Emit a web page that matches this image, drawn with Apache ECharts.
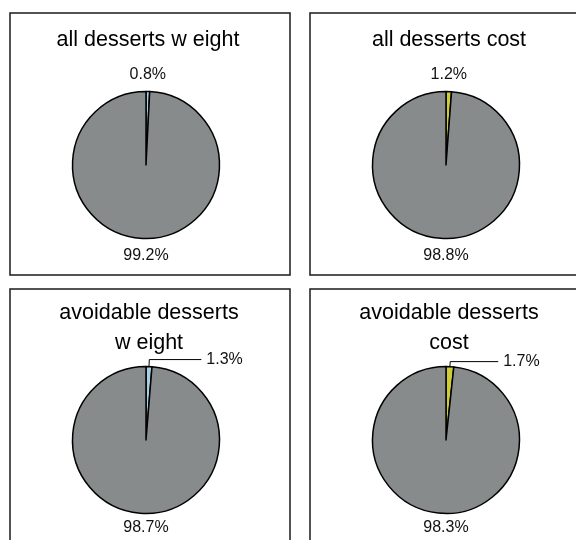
<!DOCTYPE html>
<html>
<head>
<meta charset="utf-8">
<script src="https://cdn.jsdelivr.net/npm/echarts@6/dist/echarts.min.js"></script>
<style>
html, body { margin: 0; padding: 0; background: #fff; }
#chart { width: 576px; height: 540px; }
</style>
</head>
<body>
<div id="chart"></div>
<script>
// slices: small dessert share first, the rest second
const categories = ['desserts', 'other']
const titles = ['all desserts w eight', 'all desserts cost', 'avoidable desserts\nw eight', 'avoidable desserts\ncost']
const allWeight = [0.8, 99.2]
const allCost = [1.2, 98.8]
const avoidableWeight = [1.3, 98.7]
const avoidableCost = [1.7, 98.3]
const weightColors = ['#a9cfe2', '#878b8c']
const costColors = ['#cfcc3a', '#878b8c']

const chart = echarts.init(document.getElementById('chart'), null, { renderer: 'canvas' })

// panel layout: pie centre, title anchor, label line lengths
const panels = [
    { values: allWeight, colors: weightColors, center: [146, 165], titleX: 148, titleY: 25, line: false, len: [16.5, 17.5], len2: 0 },
    { values: allCost, colors: costColors, center: [446, 165], titleX: 449, titleY: 25, line: false, len: [16.5, 17.5], len2: 0 },
    { values: avoidableWeight, colors: weightColors, center: [146, 440], titleX: 149, titleY: 298, line: true, len: [7, 14.5], len2: 52 },
    { values: avoidableCost, colors: costColors, center: [446, 440], titleX: 449, titleY: 298, line: true, len: [5, 14.5], len2: 48 }
]

const title = panels.map((p, i) => ({
    text: titles[i],
    left: p.titleX,
    top: p.titleY,
    textAlign: 'center',
    padding: 0,
    textStyle: {
        fontFamily: 'Liberation Sans',
        fontSize: 21.5,
        fontWeight: 'normal',
        color: '#000',
        lineHeight: 30
    }
}))

const series = panels.map(p => ({
    type: 'pie',
    center: p.center,
    radius: 73.5,
    startAngle: 90,
    clockwise: true,
    avoidLabelOverlap: false,
    silent: true,
    data: categories.map((name, j) => ({
        name: name,
        value: p.values[j],
        itemStyle: { color: p.colors[j] },
        labelLine: {
            show: p.line && j === 0,
            length: p.len[j],
            length2: j === 0 ? p.len2 : 0,
            lineStyle: { color: '#000', width: 1 }
        }
    })),
    itemStyle: { borderColor: '#000', borderWidth: 1.5 },
    label: {
        position: 'outside',
        formatter: '{c}%',
        fontFamily: 'Liberation Sans',
        fontSize: 16,
        color: '#111'
    },
    labelLayout: function (params) {
        if (p.line && params.dataIndex === 0) return {}
        return { x: params.rect.x + params.rect.width / 2, align: 'center' }
    }
}))

// panel frames
const frames = [
    [10, 13, 280, 262],
    [310, 13, 300, 262],
    [10, 289, 280, 300],
    [310, 289, 300, 300]
]

const option = {
    animation: false,
    backgroundColor: '#fff',
    title: title,
    graphic: frames.map(f => ({
        type: 'rect',
        shape: { x: f[0], y: f[1], width: f[2], height: f[3] },
        style: { fill: 'none', stroke: '#1a1a1a', lineWidth: 1.5 },
        silent: true
    })),
    series: series
}

chart.setOption(option)
</script>
</body>
</html>
